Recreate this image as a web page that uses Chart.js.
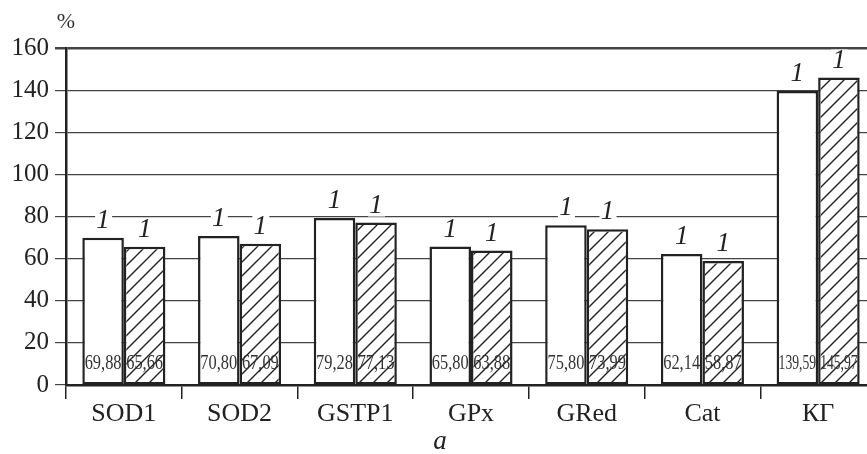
<!DOCTYPE html>
<html>
<head>
<meta charset="utf-8">
<script src="https://cdn.jsdelivr.net/npm/chart.js@4/dist/chart.umd.min.js"></script>
<style>
html,body{margin:0;padding:0;overflow:hidden;background:#fff;}
#wrap{position:relative;width:880px;height:454px;}
</style>
</head>
<body>
<div id="wrap"><canvas id="c"></canvas></div>
<script>
const categories = ['SOD1','SOD2','GSTP1','GPx','GRed','Cat','КГ'];
const series1 = [69.88,70.80,79.28,65.80,75.80,62.14,139.59];
const series2 = [65.66,67.09,77.13,63.88,73.99,58.87,145.97];
const seriesMarks = ['1','1'];
const yTicks = [0,20,40,60,80,100,120,140,160];
const yUnit = '%';
const panelLetter = 'a';

const SERIF_FAMILY = '"Liberation Serif", "Times New Roman", serif';

function formatValue(v){ return v.toFixed(2).replace('.', ','); }

const hatchAndLabels = {
  id: 'hatchAndLabels',
  afterDatasetsDraw(chart){
    const ctx = chart.ctx;
    const area = chart.chartArea;
    // diagonal hatching inside the second series' bars
    const m2 = chart.getDatasetMeta(1);
    m2.data.forEach(bar => {
      const bw = 2.5;
      const x0 = bar.x - bar.width / 2 + bw, x1 = bar.x + bar.width / 2 - bw;
      const y0 = bar.y + bw, y1 = bar.base - bw;
      ctx.save();
      ctx.beginPath();
      ctx.rect(x0, y0, x1 - x0, y1 - y0);
      ctx.clip();
      ctx.strokeStyle = '#222';
      ctx.lineWidth = 1.4;
      ctx.beginPath();
      const step = 14;
      const kStart = Math.floor((x0 + y0) / step) * step;
      for (let k = kStart; k <= x1 + y1 + step; k += step) {
        ctx.moveTo(k - y1 - 2, y1 + 2);
        ctx.lineTo(k - y0 + 2, y0 - 2);
      }
      ctx.stroke();
      ctx.restore();
    });
    chart.data.datasets.forEach((ds, di) => {
      const meta = chart.getDatasetMeta(di);
      meta.data.forEach((bar, i) => {
        const v = ds.data[i];
        ctx.save();
        ctx.font = '21px ' + SERIF_FAMILY;
        ctx.fillStyle = '#333';
        ctx.textAlign = 'center';
        ctx.textBaseline = 'middle';
        const t = formatValue(v);
        const w = ctx.measureText(t).width;
        const sc = Math.min(0.78, (bar.width - 4) / w);
        ctx.translate(bar.x, area.bottom - 22);
        ctx.scale(sc, 1);
        ctx.fillText(t, 0, 0);
        ctx.restore();
        const cy = bar.y - 17;
        ctx.save();
        ctx.fillStyle = '#fff';
        ctx.fillRect(bar.x - 8, cy - 11, 17, 22);
        ctx.font = 'italic 27px ' + SERIF_FAMILY;
        ctx.fillStyle = '#222';
        ctx.textAlign = 'center';
        ctx.textBaseline = 'middle';
        ctx.fillText(seriesMarks[di], bar.x, cy);
        ctx.restore();
      });
    });
  },
  afterDraw(chart){
    const ctx = chart.ctx;
    const area = chart.chartArea;
    ctx.save();
    ctx.fillStyle = '#333';
    ctx.textAlign = 'center';
    ctx.textBaseline = 'middle';
    ctx.font = '22px ' + SERIF_FAMILY;
    ctx.fillText(yUnit, area.left, 22);
    ctx.font = 'italic 27px ' + SERIF_FAMILY;
    ctx.fillStyle = '#222';
    ctx.fillText(panelLetter, 440, 442);
    ctx.restore();
  }
};

const barChart = new Chart(document.getElementById('c'), {
  type: 'bar',
  data: {
    labels: categories,
    datasets: [
      { data: series1, backgroundColor: '#fff', borderColor: '#222', borderWidth: 2.5, borderSkipped: false,
        categoryPercentage: 0.718, barPercentage: 1 },
      { data: series2, backgroundColor: '#fff', borderColor: '#222', borderWidth: 2.5, borderSkipped: false,
        categoryPercentage: 0.718, barPercentage: 1 }
    ]
  },
  options: {
    responsive: true,
    maintainAspectRatio: false,
    animation: false,
    layout: { padding: { top: 48, left: 0, right: 4, bottom: 0 } },
    plugins: { legend: { display: false }, tooltip: { enabled: false } },
    scales: {
      x: {
        grid: { display: true, offset: true, drawOnChartArea: false, drawTicks: true, tickLength: 14, color: '#222', lineWidth: 1.5 },
        border: { display: true, color: '#222', width: 2.5 },
        ticks: { font: { family: SERIF_FAMILY, size: 26 }, color: '#222', padding: 0 },
        afterFit(s){ s.height = 69; }
      },
      y: {
        min: 0, max: 160,
        afterBuildTicks(s){ s.ticks = yTicks.map(v => ({ value: v })); },
        grid: {
          color: '#444',
          lineWidth: c => (c.tick && c.tick.value === 160) ? 2.5 : 1.2,
          tickLength: 11
        },
        border: { display: true, color: '#222', width: 2.5 },
        ticks: { font: { family: SERIF_FAMILY, size: 25 }, color: '#222', padding: 6 },
        afterFit(s){ s.width = 66; }
      }
    }
  },
  plugins: [hatchAndLabels]
});
</script>
</body>
</html>
